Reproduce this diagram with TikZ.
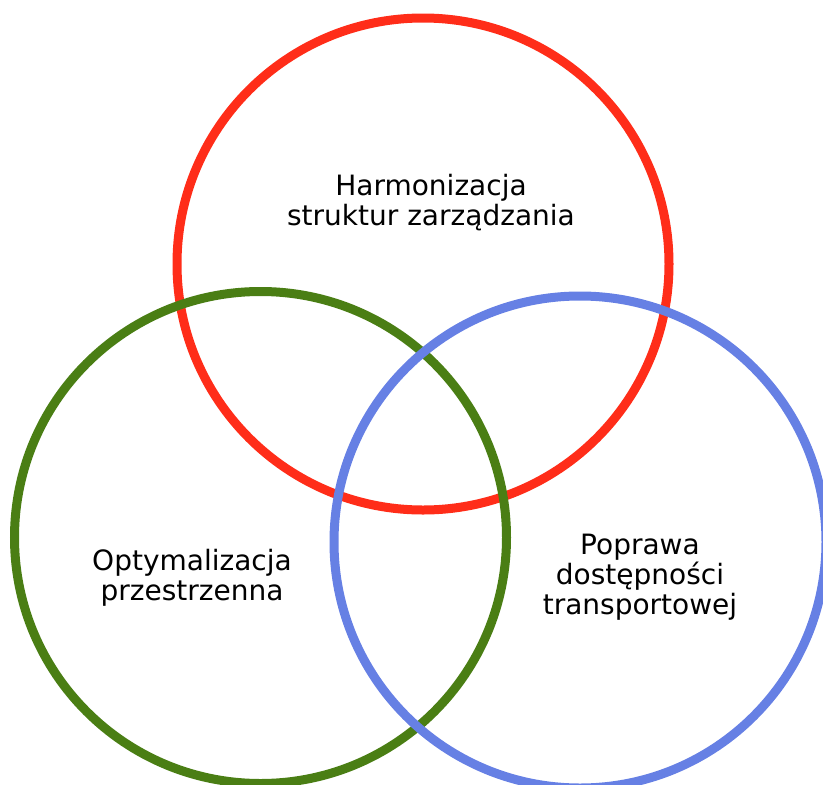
\documentclass[tikz,border=0pt]{standalone}
\usepackage{fontspec}
\setmainfont{DejaVu Sans}
\definecolor{vred}{RGB}{255,45,25}
\definecolor{vgreen}{RGB}{74,126,20}
\definecolor{vblue}{RGB}{102,128,228}
\begin{document}
\begin{tikzpicture}[x=1pt,y=-1pt,
  ring/.style={line width=9pt},
  lbl/.style={align=center,inner sep=0pt,font=\fontsize{28}{30}\selectfont}]
\useasboundingbox (0,0) rectangle (823,785);
\begin{scope}
\clip (0,0) rectangle (823,785);
\draw[ring,vred] (423,264) circle[radius=246];
\draw[ring,vgreen] (260.5,537.5) circle[radius=246];
\draw[ring,vblue] (580,542) circle[radius=246];
\end{scope}
\node[lbl] (harm) at (431,203) {Harmonizacja\\struktur zarządzania};
\node[lbl] (opt) at (192,578) {Optymalizacja\\przestrzenna};
\node[lbl] (pop) at (640,577.5) {Poprawa\\dostępności\\transportowej};
\end{tikzpicture}
\end{document}
